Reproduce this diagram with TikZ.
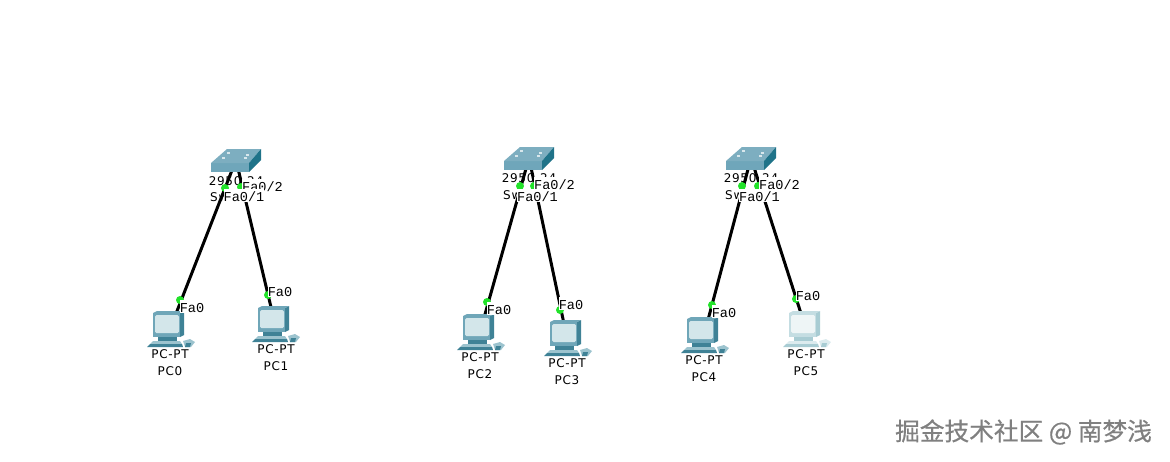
\documentclass[tikz,border=0pt]{standalone}
\usepackage{fontspec}
\newfontfamily\devfont[LetterSpace=6]{DejaVu Sans}
\newfontfamily\portfont{Liberation Mono}
\newfontfamily\markfont[FakeBold=0.6]{Noto Sans CJK SC}
\definecolor{pcbody}{HTML}{6FA6B8}
\definecolor{pcdark}{HTML}{3F8296}
\definecolor{pcscreen}{HTML}{D3E6EA}
\definecolor{pckeys}{HTML}{9CC3CE}
\definecolor{fadebody}{HTML}{C4DDE2}
\definecolor{fadedark}{HTML}{A8CCD3}
\definecolor{fadescreen}{HTML}{EEF5F6}
\definecolor{fadekeys}{HTML}{DCEBEE}
\definecolor{swtop}{HTML}{7DAEC0}
\definecolor{swfront}{HTML}{6FA6BA}
\definecolor{swside}{HTML}{1F7389}
\definecolor{linkgreen}{HTML}{22E22A}
\tikzset{
  dev/.style={inner sep=0pt, minimum size=0pt},
  devlabel/.style={inner sep=0pt, font=\devfont\fontsize{12}{12}\selectfont},
  port/.style={fill=white, inner xsep=0pt, inner ysep=0pt, yshift=1.25pt, text height=12pt, text depth=1pt, font=\portfont\fontsize{13.6}{13.6}\selectfont},
  cable/.style={draw=black, line width=3pt},
  linkdot/.style={circle, fill=linkgreen, inner sep=0pt, minimum size=8pt},
  pics/switchicon/.style={code={
    \fill[swfront] (-25,3) -- (13,3) -- (13,12) -- (-25,12) -- cycle;
    \fill[swtop] (-25,3) -- (13,3) -- (25,-11) -- (-9,-11) -- cycle;
    \fill[swside] (13,3) -- (25,-11) -- (25,0) -- (13,12) -- cycle;
    \fill[white!70!swtop] (-9,-8) rectangle (-6,-6.5);
    \fill[white!70!swtop] (10,-6) rectangle (13,-4.5);
    \fill[white!70!swtop] (-14,-3) rectangle (-11,-1.5);
    \fill[white!70!swtop] (8,-3) rectangle (11,-1.5);
  }},
  pics/pcicon/.style n args={4}{code={
    \fill[#2] (10,-16) -- (14,-18) -- (14,6) -- (10,8) -- cycle;
    \fill[#1] (-17,-16) -- (-13,-18) -- (14,-18) -- (10,-16) -- cycle;
    \fill[#1] (-17,-16) rectangle (10,8);
    \fill[#3, rounded corners=1.5pt] (-15,-14) rectangle (9,4);
    \fill[#2] (-12,8) rectangle (7,12);
    \fill[#4] (-17,12) -- (10,12) -- (12,15) -- (-20,15) -- cycle;
    \fill[#2] (-20,15) -- (12,15) -- (13,18) -- (-23,18) -- cycle;
    \fill[#4] (13,12) -- (20,10) -- (25,13) -- (21,18) -- (15,18) -- cycle;
    \fill[#2] (16,14) -- (21,14) -- (20,18) -- (15,18) -- cycle;
  }},
}
\begin{document}
\begin{tikzpicture}[x=1pt, y=-1pt]
\useasboundingbox (0,0) rectangle (1170,461);

\node[dev] (SW0) at (236,160){};
\node[dev] (SW1) at (529,158){};
\node[dev] (SW2) at (751,158){};
\node[dev] (PC0) at (170,329){};
\node[dev] (PC1) at (275,324){};
\node[dev] (PC2) at (480,332){};
\node[dev] (PC3) at (567,338){};
\node[dev] (PC4) at (704,335){};
\node[dev] (PC5) at (806,329){};

\node[devlabel] (SW0type) at (236,181){2950-24};
\node[devlabel] (SW0name) at (236,197){Switch0};
\node[devlabel] (SW1type) at (529,178){2950-24};
\node[devlabel] (SW1name) at (529,195){Switch1};
\node[devlabel] (SW2type) at (751,178){2950-24};
\node[devlabel] (SW2name) at (751,195){Switch2};

\draw[cable] (SW0)--(PC0);
\draw[cable] (SW0)--(PC1);
\draw[cable] (SW1)--(PC2);
\draw[cable] (SW1)--(PC3);
\draw[cable] (SW2)--(PC4);
\draw[cable] (SW2)--(PC5);

\pic at (SW0) {switchicon};
\pic at (SW1) {switchicon};
\pic at (SW2) {switchicon};
\pic at (PC0) {pcicon={pcbody}{pcdark}{pcscreen}{pckeys}};
\pic at (PC1) {pcicon={pcbody}{pcdark}{pcscreen}{pckeys}};
\pic at (PC2) {pcicon={pcbody}{pcdark}{pcscreen}{pckeys}};
\pic at (PC3) {pcicon={pcbody}{pcdark}{pcscreen}{pckeys}};
\pic at (PC4) {pcicon={pcbody}{pcdark}{pcscreen}{pckeys}};
\pic at (PC5) {pcicon={fadebody}{fadedark}{fadescreen}{fadekeys}};

\node[devlabel] (PC0type) at (170,354){PC-PT};
\node[devlabel] (PC0name) at (170,371){PC0};
\node[devlabel] (PC1type) at (276,349){PC-PT};
\node[devlabel] (PC1name) at (276,366){PC1};
\node[devlabel] (PC2type) at (480,357){PC-PT};
\node[devlabel] (PC2name) at (480,374){PC2};
\node[devlabel] (PC3type) at (567,363){PC-PT};
\node[devlabel] (PC3name) at (567,380){PC3};
\node[devlabel] (PC4type) at (704,360){PC-PT};
\node[devlabel] (PC4name) at (704,377){PC4};
\node[devlabel] (PC5type) at (806,354){PC-PT};
\node[devlabel] (PC5name) at (806,371){PC5};

% link lights
\node[linkdot] (L0a) at (225,188){};
\node[linkdot] (L0b) at (241,187){};
\node[linkdot] (L0c) at (180,300){};
\node[linkdot] (L0d) at (268,295){};
\node[linkdot] (L1a) at (520,186){};
\node[linkdot] (L1b) at (534,186){};
\node[linkdot] (L1c) at (487,302){};
\node[linkdot] (L1d) at (560,310){};
\node[linkdot] (L2a) at (742,186){};
\node[linkdot] (L2b) at (758,186){};
\node[linkdot] (L2c) at (712,305){};
\node[linkdot] (L2d) at (796,299){};

\node[port] (F0b) at (262.5,187){Fa0/2};
\node[port] (F0a) at (244,197){Fa0/1};
\node[port] (F0c) at (192,308){Fa0};
\node[port] (F0d) at (280,292){Fa0};
\node[port] (F1b) at (554.5,185){Fa0/2};
\node[port] (F1a) at (537.5,197){Fa0/1};
\node[port] (F1c) at (499,310){Fa0};
\node[port] (F1d) at (571,305){Fa0};
\node[port] (F2b) at (779.5,185){Fa0/2};
\node[port] (F2a) at (759.5,197){Fa0/1};
\node[port] (F2c) at (724,313){Fa0};
\node[port] (F2d) at (808,296){Fa0};

\node[inner sep=0pt, text=black!50, font=\markfont\fontsize{24.7}{24.7}\selectfont] (mark) at (1023.5,432){掘金技术社区 @ 南梦浅};
\end{tikzpicture}
\end{document}
